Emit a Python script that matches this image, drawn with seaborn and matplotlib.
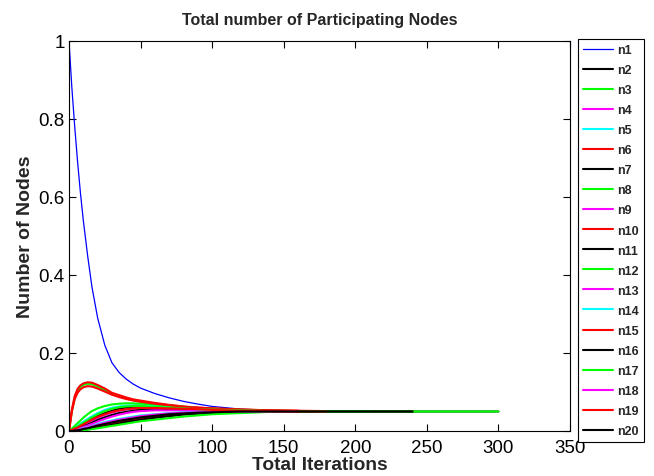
import numpy as np
import pandas as pd
import matplotlib
matplotlib.use("Agg")
import matplotlib.pyplot as plt
import seaborn as sns

iters = [0, 2, 4, 6, 8, 10, 13, 16, 20, 25, 30, 35, 40, 45, 50, 60, 70, 80,
         90, 100, 120, 140, 160, 180, 210, 240, 270, 300]

n1 = [1.0, 0.88, 0.78, 0.69, 0.61, 0.54, 0.45, 0.37, 0.29, 0.22, 0.175, 0.15, 0.133,
      0.12, 0.11, 0.096, 0.085, 0.076, 0.069, 0.063, 0.056, 0.053, 0.051, 0.050]
n2 = [0, 0.003, 0.006, 0.01, 0.014, 0.018, 0.024, 0.03, 0.038, 0.046, 0.052, 0.057,
      0.06, 0.061, 0.062, 0.061, 0.059, 0.058, 0.056, 0.055, 0.053, 0.051, 0.05, 0.05,
      0.05, 0.05]
n3 = [0, 0.05, 0.085, 0.103, 0.113, 0.118, 0.121, 0.120, 0.114, 0.105, 0.096, 0.089,
      0.083, 0.079, 0.075, 0.069, 0.065, 0.061, 0.059, 0.057, 0.054, 0.052, 0.051,
      0.05, 0.05]
n4 = [0, 0.002, 0.005, 0.008, 0.011, 0.015, 0.02, 0.026, 0.033, 0.041, 0.047, 0.052,
      0.055, 0.057, 0.058, 0.058, 0.057, 0.056, 0.055, 0.054, 0.052, 0.051, 0.05]
n5 = [0, 0.004, 0.009, 0.014, 0.019, 0.024, 0.031, 0.038, 0.046, 0.054, 0.06, 0.063,
      0.065, 0.066, 0.066, 0.064, 0.062, 0.06, 0.058, 0.056, 0.053, 0.052, 0.051, 0.05]
n6 = [0, 0.055, 0.09, 0.108, 0.117, 0.122, 0.125, 0.124, 0.118, 0.109, 0.098, 0.092,
      0.086, 0.081, 0.078, 0.072, 0.067, 0.063, 0.06, 0.058, 0.055, 0.053, 0.052, 0.051]
n7 = [0, 0.002, 0.004, 0.006, 0.009, 0.012, 0.016, 0.021, 0.028, 0.035, 0.041, 0.046,
      0.049, 0.052, 0.054, 0.055, 0.055, 0.054, 0.053, 0.052, 0.051, 0.05, 0.05]
n8 = [0, 0.006, 0.013, 0.02, 0.027, 0.034, 0.043, 0.051, 0.058, 0.064, 0.068, 0.07,
      0.071, 0.071, 0.07, 0.068, 0.065, 0.062, 0.059, 0.057, 0.054, 0.052, 0.051, 0.05]
n9 = [0, 0.001, 0.003, 0.005, 0.007, 0.01, 0.014, 0.018, 0.024, 0.031, 0.037, 0.042,
      0.046, 0.049, 0.051, 0.053, 0.053, 0.053, 0.052, 0.052, 0.051, 0.05, 0.05]
n10 = [0, 0.05, 0.082, 0.098, 0.107, 0.112, 0.115, 0.114, 0.109, 0.101, 0.093, 0.087,
       0.082, 0.078, 0.075, 0.07, 0.066, 0.062, 0.06, 0.058, 0.055, 0.053, 0.052]
n11 = [0, 0, 0.001, 0.002, 0.003, 0.004, 0.006, 0.008, 0.011, 0.015, 0.019, 0.022,
       0.026, 0.029, 0.032, 0.037, 0.041, 0.044, 0.046, 0.048, 0.05, 0.05, 0.05, 0.05,
       0.05, 0.05]
n12 = [0, 0.003, 0.007, 0.011, 0.016, 0.021, 0.028, 0.035, 0.043, 0.051, 0.057, 0.061,
       0.063, 0.064, 0.064, 0.062, 0.06, 0.058, 0.056, 0.055, 0.053, 0.051, 0.05, 0.05,
       0.05]
n13 = [0, 0, 0.001, 0.002, 0.004, 0.005, 0.008, 0.011, 0.015, 0.019, 0.023, 0.027,
       0.03, 0.033, 0.036, 0.04, 0.044, 0.046, 0.048, 0.049, 0.05, 0.05, 0.05]
n14 = [0, 0.001, 0.002, 0.003, 0.005, 0.007, 0.01, 0.013, 0.018, 0.023, 0.027, 0.031,
       0.034, 0.037, 0.04, 0.043, 0.046, 0.048, 0.049, 0.05, 0.05, 0.05, 0.05, 0.05]
n15 = [0, 0, 0.001, 0.001, 0.002, 0.003, 0.005, 0.007, 0.01, 0.013, 0.017, 0.02,
       0.024, 0.027, 0.03, 0.035, 0.039, 0.043, 0.045, 0.047, 0.049, 0.05, 0.05]
n16 = [0, 0, 0, 0.001, 0.002, 0.003, 0.004, 0.006, 0.009, 0.012, 0.016, 0.019, 0.023,
       0.026, 0.029, 0.034, 0.038, 0.042, 0.044, 0.046, 0.049, 0.05, 0.05, 0.05, 0.05,
       0.05, 0.05, 0.05]
n17 = [0, 0, 0, 0.001, 0.001, 0.002, 0.003, 0.005, 0.007, 0.01, 0.013, 0.016, 0.019,
       0.022, 0.025, 0.029, 0.033, 0.037, 0.04, 0.043, 0.046, 0.049, 0.05, 0.05, 0.05,
       0.05, 0.05, 0.05]
n18 = [0, 0.001, 0.002, 0.003, 0.004, 0.006, 0.009, 0.012, 0.016, 0.021, 0.025, 0.029,
       0.032, 0.035, 0.038, 0.042, 0.045, 0.047, 0.048, 0.049, 0.05, 0.05, 0.05]
n19 = [0, 0.003, 0.006, 0.009, 0.013, 0.017, 0.023, 0.029, 0.036, 0.043, 0.049, 0.053,
       0.056, 0.058, 0.059, 0.059, 0.058, 0.057, 0.056, 0.054, 0.052, 0.051, 0.05, 0.05]
n20 = [0, 0, 0.001, 0.002, 0.003, 0.005, 0.007, 0.01, 0.014, 0.018, 0.022, 0.026,
       0.029, 0.032, 0.035, 0.039, 0.043, 0.045, 0.047, 0.048, 0.05, 0.05, 0.05, 0.05,
       0.05, 0.05]

series = [n1, n2, n3, n4, n5, n6, n7, n8, n9, n10,
          n11, n12, n13, n14, n15, n16, n17, n18, n19, n20]
names = [f"n{i}" for i in range(1, 21)]
colors = ["#0000ff", "#000000", "#00ff00", "#ff00ff", "#00ffff", "#ff0000",
          "#000000", "#00ff00", "#ff00ff", "#ff0000", "#000000", "#00ff00",
          "#ff00ff", "#00ffff", "#ff0000", "#000000", "#00ff00", "#ff00ff",
          "#ff0000", "#000000"]

xticks = [0, 50, 100, 150, 200, 250, 300, 350]
yticks = [0, 0.2, 0.4, 0.6, 0.8, 1.0]
ytick_labels = ["0", "0.2", "0.4", "0.6", "0.8", "1"]

sns.set_style("white")
plt.rcParams["font.family"] = ["Liberation Sans", "DejaVu Sans"]

fig = plt.figure(figsize=(6.54, 4.77), dpi=100)
ax = fig.add_axes([69 / 654, 1 - 432 / 477, (570 - 69) / 654, (432 - 42) / 477])

for name, vals, col in zip(names, series, colors):
    df = pd.DataFrame({"iter": iters[:len(vals)], "val": vals})
    sns.lineplot(data=df, x="iter", y="val", color=col, ax=ax, label=name,
                 linewidth=0.9 if name == "n1" else 1.5, sort=False,
                 estimator=None)

ax.set_xlim(0, 350)
ax.set_ylim(0, 1)
ax.set_xticks(xticks)
ax.set_xticklabels([str(t) for t in xticks])
ax.set_yticks(yticks)
ax.set_yticklabels(ytick_labels)
ax.tick_params(direction="in", length=5, width=0.8, labelsize=13.5,
               top=True, right=True, bottom=True, left=True, pad=3,
               colors="black")
ax.tick_params(axis="x", pad=6)
for sp in ax.spines.values():
    sp.set_color("black")
    sp.set_linewidth(0.8)

ax.set_title("Total number of Participating Nodes", fontsize=11.5,
             fontweight="bold", pad=12)
ax.set_xlabel("Total Iterations", fontsize=13.8, fontweight="bold", labelpad=0)
ax.set_ylabel("Number of Nodes", fontsize=14, fontweight="bold", labelpad=3)

leg = ax.legend(loc="upper left", bbox_to_anchor=((578 - 69) / 501, (432 - 40) / 390),
                borderaxespad=0, frameon=True, fancybox=False, framealpha=1,
                edgecolor="black", prop={"weight": "bold", "size": 9},
                handlelength=2.4, handletextpad=0.3, labelspacing=0.645,
                borderpad=0.4)
leg.get_frame().set_linewidth(0.8)

fig.savefig("out.png", dpi=100, facecolor="white")
